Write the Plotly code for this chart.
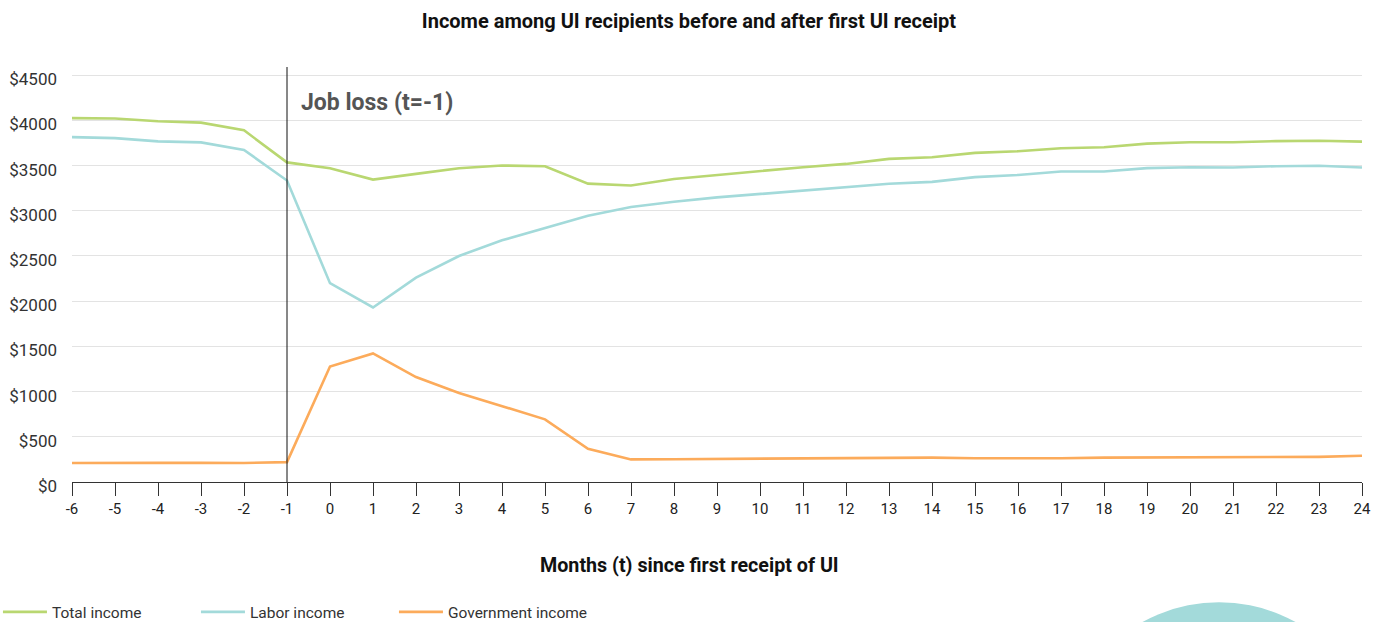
import plotly.graph_objects as go

months = list(range(-6, 25))
month_labels = [str(m) for m in months]
total_income = [4025, 4020, 3990, 3975, 3890, 3535, 3470, 3345, 3408, 3471, 3500, 3493, 3300, 3280,
                3352, 3397, 3437, 3482, 3518, 3574, 3592, 3640, 3658, 3692, 3703, 3743, 3758, 3758,
                3770, 3775, 3765]
labor_income = [3814, 3803, 3767, 3756, 3673, 3334, 2199, 1930, 2261, 2500, 2673, 2808, 2944, 3041,
                3100, 3148, 3185, 3222, 3258, 3298, 3320, 3372, 3396, 3434, 3434, 3471, 3482, 3478,
                3493, 3497, 3478]
gov_income = [210, 215, 212, 212, 210, 220, 1278, 1422, 1161, 985, 836, 693, 367, 250,
              252, 254, 254, 257, 260, 265, 270, 263, 262, 262, 270, 272, 270, 275, 274, 278, 290]

y_ticks = [0, 500, 1000, 1500, 2000, 2500, 3000, 3500, 4000, 4500]
y_tick_labels = ["$" + str(v) for v in y_ticks]

FONT = "Roboto"
fig = go.Figure()
series = [("Total income", total_income, "#b9d771"),
          ("Labor income", labor_income, "#a3dada"),
          ("Government income", gov_income, "#fcab5b")]
for name, vals, col in series:
    fig.add_trace(go.Scatter(x=months, y=vals, mode="lines", name=name,
                             line=dict(color=col, width=2.6)))

fig.update_layout(
    width=1378, height=622,
    margin=dict(l=72, r=16, t=67, b=140, autoexpand=False),
    plot_bgcolor="white", paper_bgcolor="white",
    font=dict(family=FONT, size=15, color="#333333"),
    title=dict(text="<b>Income among UI recipients before and after first UI receipt</b>",
               x=0.5, xanchor="center", xref="container", y=0.967, yref="container", yanchor="middle",
               font=dict(family=FONT, size=20, color="#111111")),
    showlegend=True,
    legend=dict(orientation="h", x=-0.0574, xanchor="left", y=-0.314, yanchor="middle",
                font=dict(family=FONT, size=15.5, color="#333333"), itemwidth=44,
                entrywidth=139, entrywidthmode="pixels"),
    xaxis=dict(range=[-6, 24], tickmode="array", tickvals=months, ticktext=month_labels,
               ticks="outside", ticklen=13, tickcolor="#333333", tickwidth=1,
               showline=True, linecolor="#333333", linewidth=1,
               showgrid=False, zeroline=False, automargin=False,
               tickfont=dict(size=15, color="#222222")),
    yaxis=dict(range=[0, 4590], tickmode="array", tickvals=y_ticks, ticktext=y_tick_labels,
               showgrid=True, gridcolor="#e3e3e3", gridwidth=1.2, zeroline=False,
               showline=False, ticks="", ticklabelshift=4, ticklabelstandoff=14,
               automargin=False, tickfont=dict(size=17, color="#333333")),
)

fig.add_shape(type="line", xref="x", yref="paper", x0=-1, x1=-1, y0=0, y1=1,
              line=dict(color="#111111", width=1))
fig.add_annotation(xref="x", yref="paper", x=-1, y=0.9156, xanchor="left", yanchor="middle",
                   xshift=12, showarrow=False, text="<b>Job loss (t=-1)</b>",
                   font=dict(family=FONT, size=23, color="#555555"))
fig.add_annotation(xref="paper", yref="paper", x=0.4783, y=-0.2, xanchor="center", yanchor="middle",
                   showarrow=False, text="<b>Months (t) since first receipt of UI</b>",
                   font=dict(family=FONT, size=19.7, color="#111111"))
# decorative teal circle at the bottom right
fig.add_shape(type="circle", xref="paper", yref="paper", x0=0.7659, x1=1.0124, y0=-1.058, y1=-0.2899,
              fillcolor="#a3dada", line=dict(width=0), layer="below")

fig.write_html("out.html", config={"displayModeBar": False},
               post_script="document.body.style.margin='0';document.body.style.overflow='hidden';")
